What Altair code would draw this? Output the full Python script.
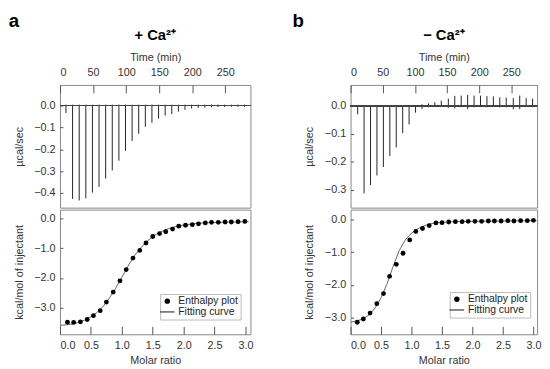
import altair as alt
import pandas as pd

# ---------------- data ----------------
# panel a (+ Ca2+): raw ITC trace, one spike per injection
a_time = [9, 19, 29, 39, 49, 59, 69, 79, 89, 99, 109, 119, 129, 139,
          149, 159, 169, 179, 189, 199, 209, 219, 229, 239, 249, 259, 269, 279]
a_down = [-0.034, -0.427, -0.434, -0.424, -0.398, -0.372, -0.334, -0.297,
          -0.252, -0.207, -0.162, -0.129, -0.097, -0.079, -0.060, -0.046,
          -0.039, -0.028, -0.020, -0.014, -0.011, -0.009, -0.008, -0.007,
          -0.007, -0.006, -0.006, -0.006]
a_up = [0.004] * 28

# panel b (- Ca2+)
b_time = [11, 21, 31, 41, 51, 61, 71, 81, 91, 101, 111, 121, 131, 141,
          152, 162, 172, 182, 192, 202, 212, 222, 232, 242, 253, 263, 273, 283]
b_down = [-0.031, -0.313, -0.283, -0.249, -0.219, -0.180, -0.149, -0.098,
          -0.067, -0.025, -0.012, -0.006, -0.004, -0.004, -0.008, -0.010,
          -0.005, -0.012, -0.006, -0.005, -0.006, -0.005, -0.006, -0.006,
          -0.013, -0.012, -0.005, -0.005]
b_up = [0.0, 0.0, 0.0, 0.0, 0.0, 0.0, 0.0, 0.0, 0.0, 0.002, 0.005, 0.008,
        0.012, 0.018, 0.025, 0.035, 0.036, 0.038, 0.036, 0.036, 0.034, 0.033,
        0.030, 0.029, 0.027, 0.036, 0.027, 0.025]

# integrated heats (enthalpy plot)
a_ratio = [0.12, 0.22, 0.33, 0.44, 0.54, 0.65, 0.75, 0.86, 0.97, 1.07, 1.18,
           1.29, 1.39, 1.50, 1.61, 1.71, 1.82, 1.92, 2.03, 2.14, 2.24, 2.35,
           2.45, 2.56, 2.67, 2.77, 2.88, 2.99]
a_dh = [-3.50, -3.51, -3.49, -3.41, -3.28, -3.11, -2.82, -2.48, -2.10, -1.72,
        -1.33, -1.07, -0.82, -0.60, -0.50, -0.44, -0.35, -0.25, -0.22, -0.20,
        -0.17, -0.14, -0.12, -0.12, -0.11, -0.11, -0.10, -0.09]
a_fit_x = [0.0, 0.1, 0.2, 0.3, 0.4, 0.5, 0.6, 0.7, 0.8, 0.9, 1.0, 1.1, 1.2,
           1.3, 1.4, 1.5, 1.6, 1.7, 1.8, 1.9, 2.0, 2.2, 2.4, 2.6, 2.8, 3.05]
a_fit_y = [-3.61, -3.59, -3.56, -3.51, -3.43, -3.32, -3.17, -2.96, -2.68,
           -2.35, -1.98, -1.60, -1.26, -1.00, -0.78, -0.60, -0.47, -0.38,
           -0.30, -0.25, -0.21, -0.16, -0.13, -0.12, -0.11, -0.10]

b_ratio = [0.11, 0.21, 0.32, 0.43, 0.54, 0.64, 0.75, 0.86, 0.97, 1.07, 1.18,
           1.29, 1.40, 1.50, 1.61, 1.72, 1.83, 1.93, 2.04, 2.15, 2.26, 2.36,
           2.47, 2.58, 2.68, 2.79, 2.90, 3.00]
b_dh = [-3.15, -3.05, -2.87, -2.58, -2.27, -1.74, -1.37, -1.03, -0.62, -0.36,
        -0.27, -0.18, -0.10, -0.09, -0.07, -0.06, -0.06, -0.05, -0.05, -0.05,
        -0.04, -0.04, -0.04, -0.03, -0.04, -0.03, -0.03, -0.02]
b_fit_x = [0.0, 0.1, 0.2, 0.3, 0.4, 0.5, 0.6, 0.7, 0.8, 0.9, 1.0, 1.1, 1.2,
           1.3, 1.4, 1.5, 1.7, 2.0, 2.5, 3.05]
b_fit_y = [-3.15, -3.11, -3.05, -2.93, -2.72, -2.40, -1.96, -1.42, -0.94,
           -0.61, -0.41, -0.28, -0.19, -0.13, -0.10, -0.08, -0.06, -0.05,
           -0.04, -0.03]

time_ticks = [0, 50, 100, 150, 200, 250]
ratio_ticks = [0.0, 0.5, 1.0, 1.5, 2.0, 2.5, 3.0]
dh_ticks = [0.0, -1.0, -2.0, -3.0]
legend_labels = ["Enthalpy plot", "Fitting curve"]

TXT = "#333"
LINE_SYMBOL = "M-2.7,-0.17L2.7,-0.17L2.7,0.17L-2.7,0.17Z"


def y_axis(title, values):
    # inward ticks: the axis line is pulled 3px into the plot
    return alt.Axis(title=title, values=values, format=".1f", offset=-3,
                    tickSize=3, labelPadding=5, titlePadding=10,
                    domain=False, grid=False, labelOverlap=False)


def top_chart(time, down, up, ydom, yticks, xmax, width, title):
    df = pd.DataFrame({"t": time, "lo": down, "hi": up})
    xs = alt.Scale(domain=[0, xmax], nice=False, zero=False)
    ys = alt.Scale(domain=ydom, nice=False, zero=False)
    xax = alt.Axis(orient="top", title="Time (min)", values=time_ticks,
                   format="d", offset=-8, tickSize=8, labelPadding=8,
                   titlePadding=4, domain=False, grid=False,
                   labelOverlap=False)
    yax = y_axis("µcal/sec", yticks)
    base = alt.Chart(df)
    spikes = base.mark_rule(color="#222", strokeWidth=1).encode(
        x=alt.X("t:Q", scale=xs, axis=xax),
        y=alt.Y("lo:Q", scale=ys, axis=yax),
        y2="hi:Q",
    )
    baseline = base.mark_rule(color="#444", strokeWidth=1).encode(
        y=alt.Y(datum=0, scale=ys, axis=yax))
    return alt.layer(spikes, baseline).properties(
        width=width, height=125,
        title=alt.TitleParams(title, anchor="middle", frame="group",
                              fontSize=15, fontWeight="bold", color="black",
                              offset=9),
    )


def bottom_chart(rx, dh, fx, fy, ydom, xmax, width, legx, legy, key):
    pts = pd.DataFrame({"x": rx, "y": dh, key: legend_labels[0]})
    fit = pd.DataFrame({"x": fx, "y": fy})
    xs = alt.Scale(domain=[0, xmax], nice=False, zero=False)
    ys = alt.Scale(domain=ydom, nice=False, zero=False)
    xax = alt.Axis(title="Molar ratio", values=ratio_ticks, format=".1f",
                   offset=-8, tickSize=8, labelPadding=5, titlePadding=5,
                   domain=False, grid=False, labelOverlap=False)
    yax = y_axis("kcal/mol of injectant", dh_ticks)
    line = alt.Chart(fit).mark_line(color="#666", strokeWidth=1).encode(
        x=alt.X("x:Q", scale=xs, axis=xax),
        y=alt.Y("y:Q", scale=ys, axis=yax),
    )
    points = alt.Chart(pts).mark_point(
        filled=True, color="black", size=24, opacity=1).encode(
        x=alt.X("x:Q", scale=xs, axis=xax),
        y=alt.Y("y:Q", scale=ys, axis=yax),
        shape=alt.Shape(
            f"{key}:N",
            scale=alt.Scale(domain=legend_labels,
                            range=["circle", LINE_SYMBOL]),
            legend=alt.Legend(
                title=None, orient="none", legendX=legx, legendY=legy,
                strokeColor="#bbb", fillColor="white", padding=2,
                labelFontSize=10.5, labelColor="#222", rowPadding=0,
                symbolFillColor="black", symbolSize=30, labelOffset=6,
            ),
        ),
    )
    return alt.layer(line, points).properties(width=width, height=127)


col_a = alt.vconcat(
    top_chart(a_time, a_down, a_up, [-0.467, 0.094],
              [0.0, -0.1, -0.2, -0.3, -0.4], 288, 194, "+ Ca²⁺"),
    bottom_chart(a_ratio, a_dh, a_fit_x, a_fit_y, [-3.91, 0.31], 3.08, 194,
                 102, 86, "sa"),
    spacing=0,
    title=alt.TitleParams("a", anchor="start", fontSize=19,
                          fontWeight="bold", color="black", dx=-4, offset=-3),
).resolve_legend(shape="independent")
col_b = alt.vconcat(
    top_chart(b_time, b_down, b_up, [-0.364, 0.074],
              [0.0, -0.1, -0.2, -0.3], 290, 190, "− Ca²⁺"),
    bottom_chart(b_ratio, b_dh, b_fit_x, b_fit_y, [-3.52, 0.31], 3.06, 190,
                 101, 84, "sb"),
    spacing=0,
    title=alt.TitleParams("b", anchor="start", fontSize=19,
                          fontWeight="bold", color="black", dx=-11, offset=-3),
).resolve_legend(shape="independent")

chart = alt.hconcat(col_a, col_b, spacing=38).resolve_scale(
    shape="independent").resolve_legend(shape="independent").properties(
    padding={"left": 0, "top": 0, "right": 0, "bottom": 0},
).configure(font="Liberation Sans").configure_view(
    stroke="#888", strokeWidth=1
).configure_axis(
    labelFont="Liberation Sans", titleFont="Liberation Sans",
    labelFontSize=11, titleFontSize=11, labelColor=TXT, titleColor=TXT,
    titleFontWeight="normal", tickColor="#555",
).configure_title(font="Liberation Sans")

chart.save("out.html", embed_options={"renderer": "svg", "actions": False})
